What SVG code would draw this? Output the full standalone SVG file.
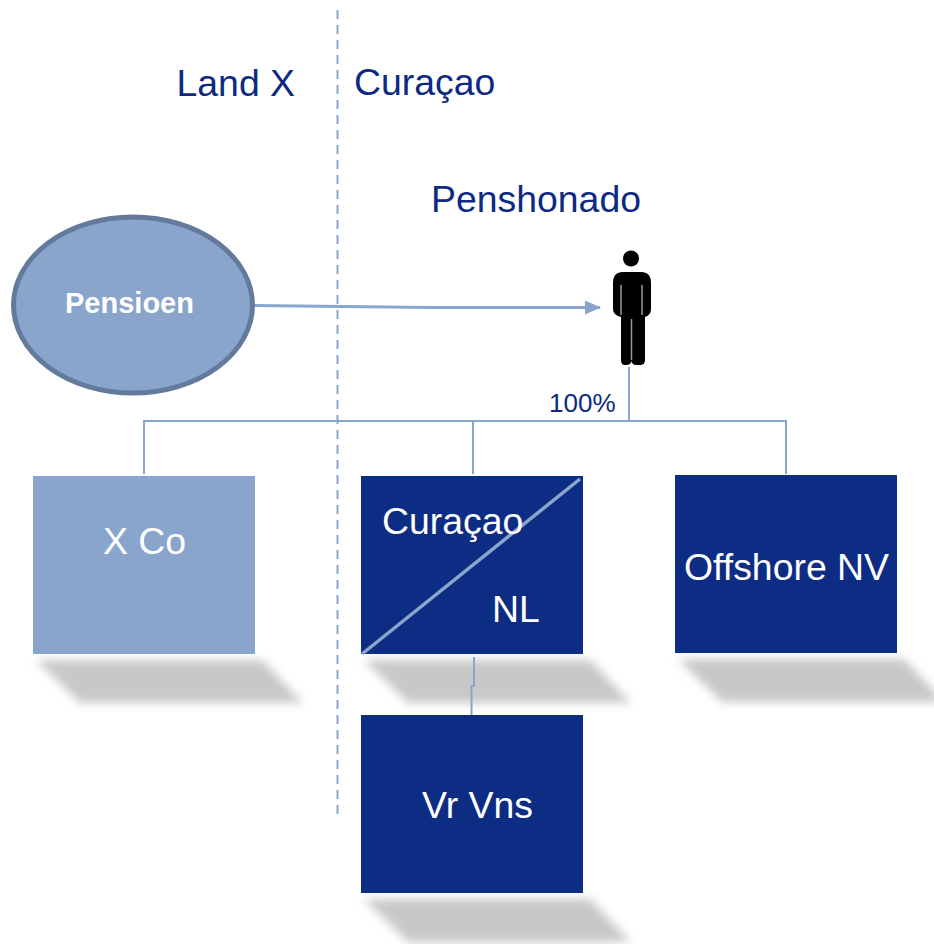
<svg xmlns="http://www.w3.org/2000/svg" width="934" height="944" viewBox="0 0 934 944">
<style>
text{font-family:"Liberation Sans",Arial,sans-serif}
.t{font-size:37.400px;fill:#0d2a82}
.w{font-size:37.400px;fill:#fff}
.box{fill:#0d2c83}
.sh{fill:#c8c8c8;filter:url(#b)}
.c{fill:none;stroke:#89a5cc;stroke-width:2}
</style>
<defs>
<filter id="b" x="-15%" y="-30%" width="130%" height="160%"><feGaussianBlur stdDeviation="5"/></filter>
<marker id="a" markerUnits="userSpaceOnUse" markerWidth="16" markerHeight="14" refX="15" refY="7" orient="auto"><path d="M0 0L16 7L0 14Z" fill="#89a5cc"/></marker>
</defs>
<g id="divider"><line x1="337.500" y1="10" x2="337.500" y2="815" stroke="#89a5cc" stroke-width="2" stroke-dasharray="9 6"/></g>
<g id="labels">
<text class="t" x="176.500" y="96">Land X</text>
<text class="t" x="354" y="95">Curaçao</text>
<text class="t" x="431" y="212">Penshonado</text>
</g>
<g id="shadows">
<path class="sh" d="M36 660H262L303 703H80Z"/>
<path class="sh" d="M364 660H590L631 703H408Z"/>
<path class="sh" d="M678 659H904L945 702H722Z"/>
<path class="sh" d="M364 899H590L631 942H408Z"/>
</g>
<g id="connectors" class="c">
<path d="M629 367V421H144V474M473 421V474M629 421H786V474"/>
<path d="M474 657V686H471.500V715"/>
<path d="M254 305.500L430 307.500H600" stroke-width="3" marker-end="url(#a)"/>
</g>
<g id="pensioen">
<ellipse cx="133" cy="305" rx="119.500" ry="88" fill="#89a5cc" stroke="#637a9d" stroke-width="5"/>
<text x="129.500" y="313" text-anchor="middle" font-size="29" font-weight="700" fill="#fff">Pensioen</text>
</g>
<g id="person" fill="#000">
<circle cx="631" cy="258.500" r="8"/>
<path d="M623 272H641Q651 272 651 283V309Q651 315 645 317V360Q645 365 640 365H636Q632 365 631.500 361Q631 365 626 365H625Q621 365 621 360V317Q613 315 613 309V283Q613 272 623 272Z"/>
<path d="M621 285V315M642 285V315M631.500 319V360" stroke="#999" stroke-width="1.500" fill="none"/>
</g>
<text x="549" y="412" font-size="26" fill="#0d2a82">100%</text>
<g id="xco">
<rect x="33" y="476" width="222" height="178" fill="#89a5cc"/>
<text class="w" x="144.500" y="554" text-anchor="middle">X Co</text>
</g>
<g id="curacao-nl">
<rect class="box" x="361" y="476" width="222" height="178"/>
<line x1="362" y1="654" x2="580" y2="479" stroke="#89a5cc" stroke-width="3.500"/>
<text class="w" x="382" y="534">Curaçao</text>
<text class="w" x="492" y="622">NL</text>
</g>
<g id="offshore">
<rect class="box" x="675" y="475" width="222" height="178"/>
<text class="w" x="786.500" y="580" text-anchor="middle">Offshore NV</text>
</g>
<g id="vrvns">
<rect class="box" x="361" y="715" width="222" height="178"/>
<text class="w" x="477.500" y="818" text-anchor="middle">Vr Vns</text>
</g>
</svg>
